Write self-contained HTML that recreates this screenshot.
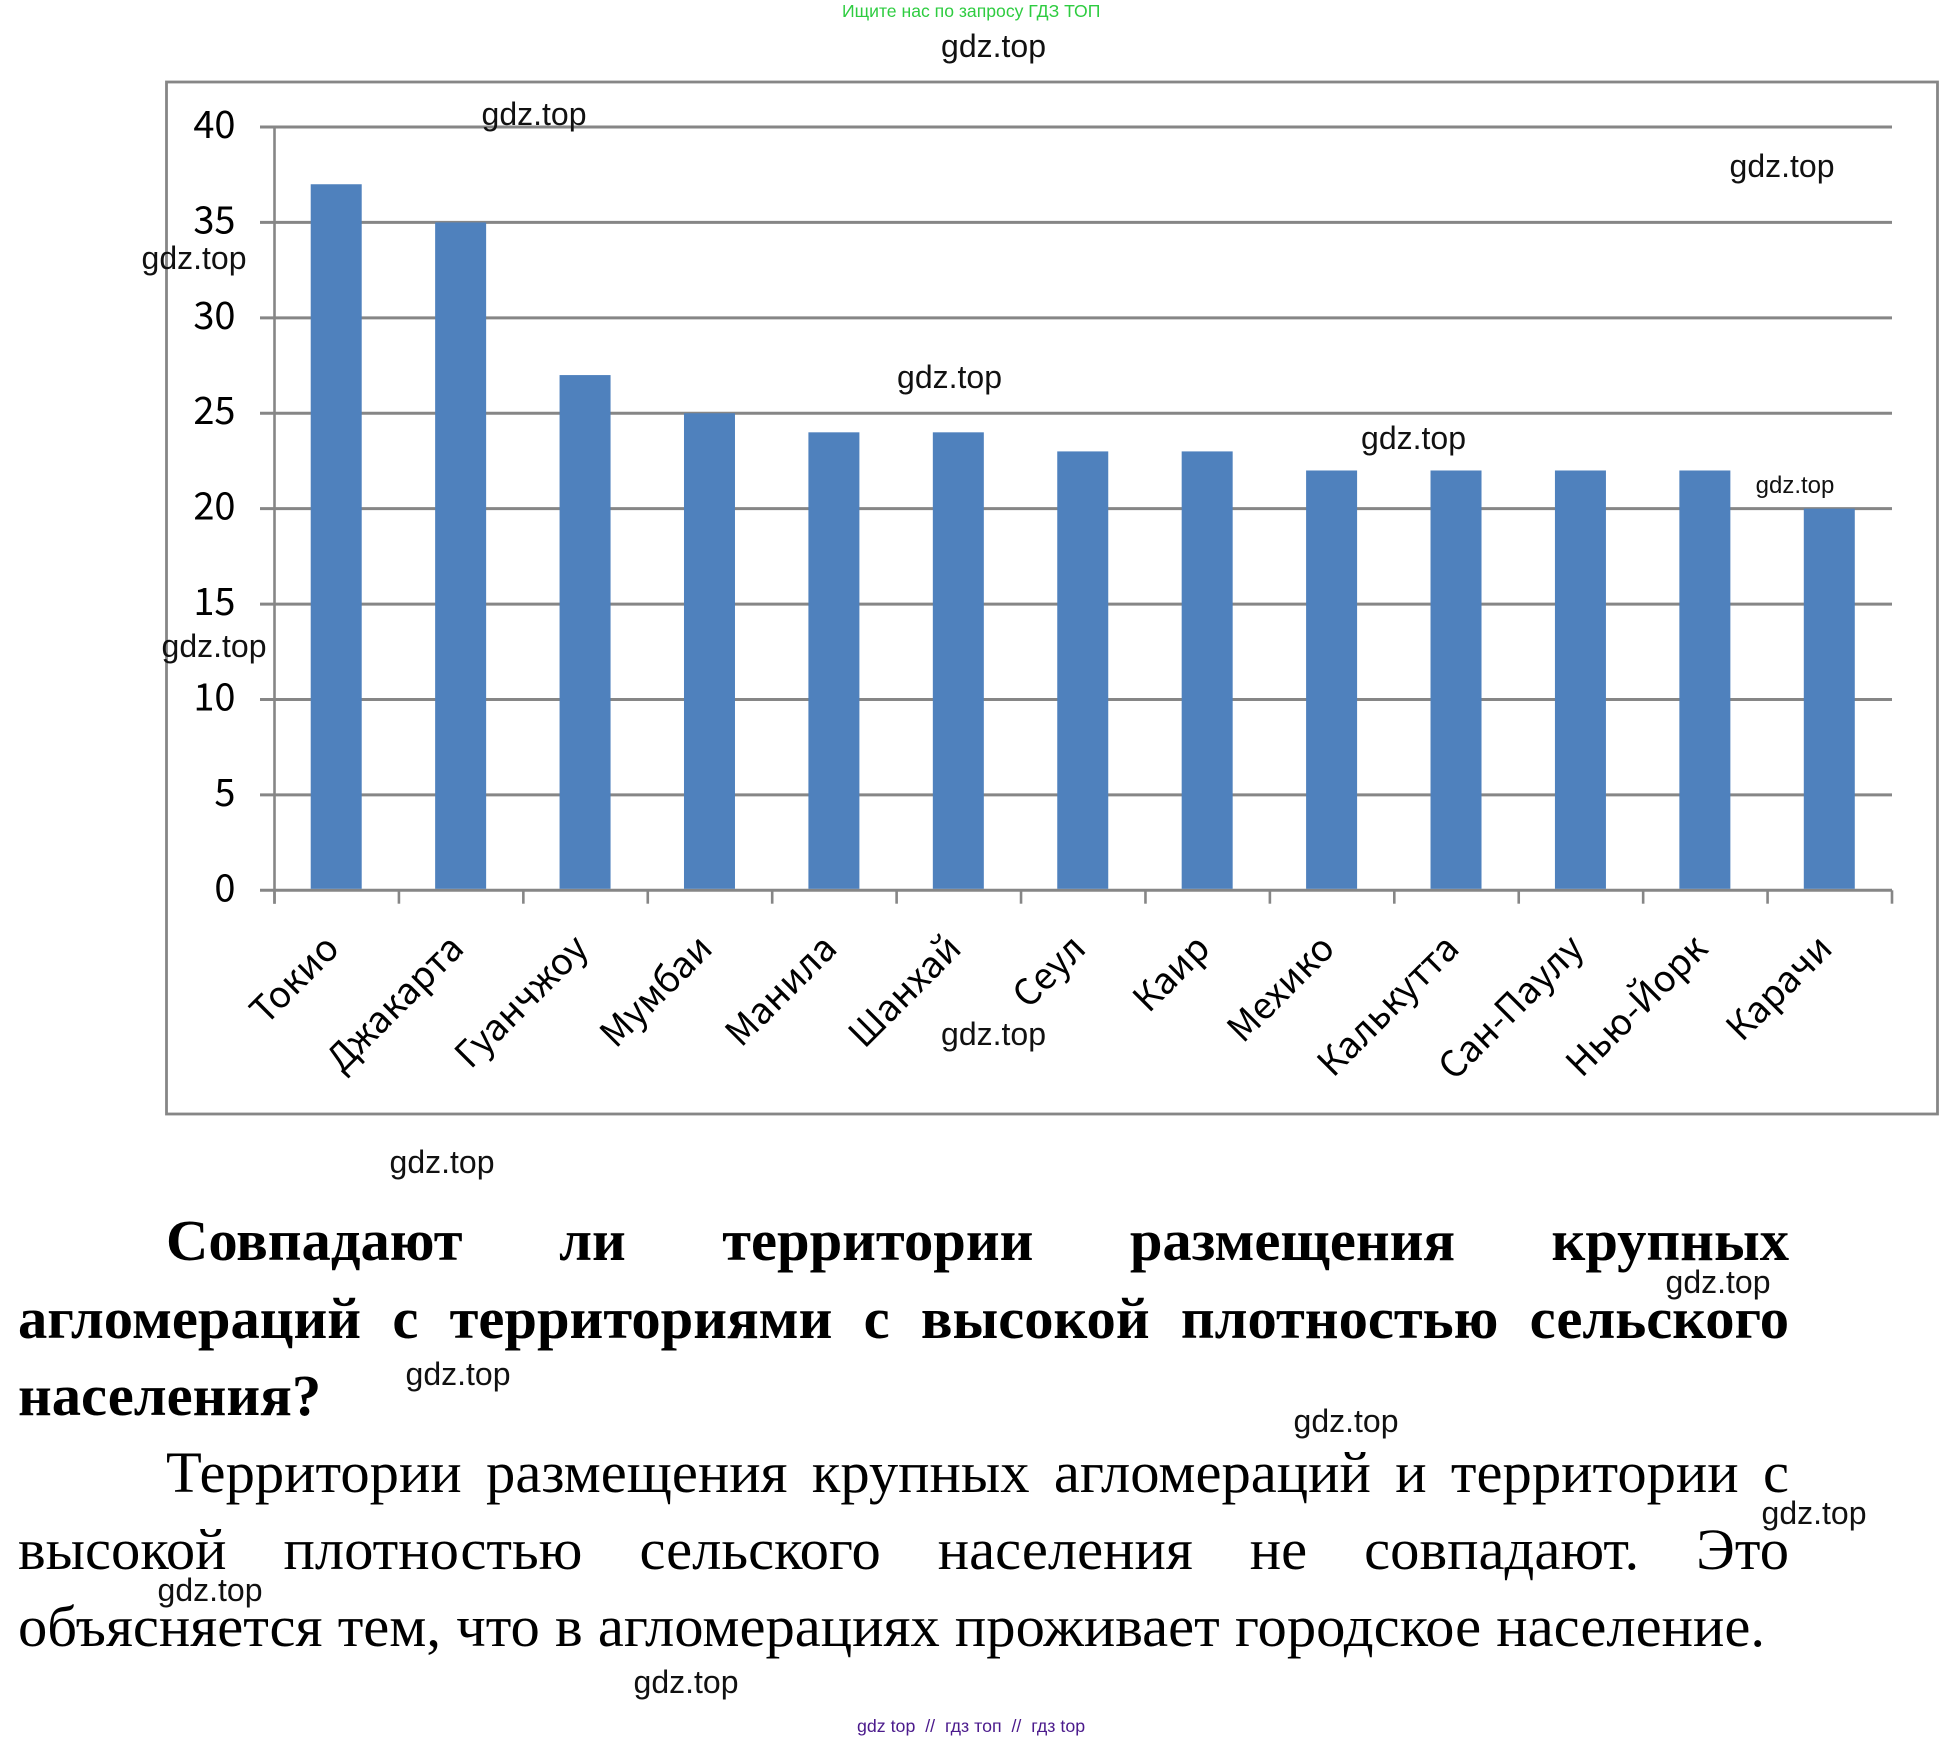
<!DOCTYPE html>
<html lang="ru">
<head>
<meta charset="utf-8">
<title>Крупнейшие агломерации</title>
<style>
html,body{margin:0;padding:0;background:#fff;}
#page{position:relative;width:1945px;height:1741px;overflow:hidden;background:#fff;}
#chart{position:absolute;left:0;top:0;}
.wm{position:absolute;font:32px/36px "Liberation Sans",sans-serif;color:#111;white-space:nowrap;transform:translateX(-50%);}
.ln{position:absolute;left:18px;width:1771px;font-family:"Liberation Serif","Noto Serif CJK SC",serif;font-size:58.6px;line-height:78px;height:78px;color:#000;white-space:nowrap;text-align:justify;text-align-last:justify;}
.ln.b{font-weight:bold;}
.ln.in{left:166px;width:1623px;}
</style>
</head>
<body>
<div id="page">
<svg id="chart" width="1945" height="1741" viewBox="0 0 1945 1741"></svg>

<div class="ln b in" style="top:1202px">Совпадают ли территории размещения крупных</div>
<div class="ln b" style="top:1280px">агломераций с территориями с высокой плотностью сельского</div>
<div class="ln b" style="top:1357px;width:auto;text-align-last:left">населения?</div>
<div class="ln in" style="top:1434px">Территории размещения крупных агломераций и территории с</div>
<div class="ln" style="top:1511px">высокой плотностью сельского населения не совпадают. Это</div>
<div class="ln" style="top:1588px;width:1747px">объясняется тем, что в агломерациях проживает городское население.</div>

<div style="position:absolute;left:842px;top:0.5px;font:17.6px/21px 'Liberation Sans',sans-serif;color:#2ecc40;white-space:nowrap">Ищите нас по запросу ГДЗ ТОП</div>
<div style="position:absolute;left:857px;top:1716px;font:17.8px/21px 'Liberation Sans',sans-serif;color:#4b1a8c;white-space:pre">gdz top  //  гдз топ  //  гдз top</div>

<div class="wm" style="left:993.5px;top:28px">gdz.top</div>
<div class="wm" style="left:534px;top:96px">gdz.top</div>
<div class="wm" style="left:1782px;top:147.5px">gdz.top</div>
<div class="wm" style="left:194px;top:240px">gdz.top</div>
<div class="wm" style="left:949.5px;top:358.5px">gdz.top</div>
<div class="wm" style="left:1413.5px;top:419.5px">gdz.top</div>
<div class="wm" style="left:1795px;top:470.5px;font-size:24px;line-height:30px">gdz.top</div>
<div class="wm" style="left:214px;top:628px">gdz.top</div>
<div class="wm" style="left:993.5px;top:1015.5px">gdz.top</div>
<div class="wm" style="left:442px;top:1144px">gdz.top</div>
<div class="wm" style="left:1718px;top:1264px">gdz.top</div>
<div class="wm" style="left:458px;top:1356px">gdz.top</div>
<div class="wm" style="left:1346px;top:1403px">gdz.top</div>
<div class="wm" style="left:1814px;top:1495px">gdz.top</div>
<div class="wm" style="left:210px;top:1572px">gdz.top</div>
<div class="wm" style="left:686px;top:1664px">gdz.top</div>
</div>

<script>
const categories = ["Токио","Джакарта","Гуанчжоу","Мумбаи","Манила","Шанхай","Сеул","Каир","Мехико","Калькутта","Сан-Паулу","Нью-Йорк","Карачи"];
const populationValues = [37,35,27,25,24,24,23,23,22,22,22,22,20];
const yTickLabels = [0,5,10,15,20,25,30,35,40];

const NS = 'http://www.w3.org/2000/svg';
const svg = document.getElementById('chart');
const plot = {left:274.5,right:1892,top:127,bottom:890.3};
const GREY = '#868686';
const FONT = '"Noto Sans CJK JP","Liberation Sans",sans-serif';
const yMax = yTickLabels[yTickLabels.length-1];
const bandW = (plot.right-plot.left)/categories.length;
function yScale(v){return plot.bottom-(v/yMax)*(plot.bottom-plot.top);}
function xBand(i){return plot.left+i*bandW;}
function mk(tag,attrs){
  const el=document.createElementNS(NS,tag);
  for(const k in attrs){el.setAttribute(k,attrs[k]);}
  return el;
}

const frame=mk('rect',{x:166.5,y:82,width:1771,height:1032,fill:'#fff',stroke:GREY,'stroke-width':2.8});


svg.appendChild(frame);

yTickLabels.forEach(function(t){
  const y=yScale(t);
  const g=mk('line',{x1:260,x2:plot.right,y1:y,y2:y,stroke:GREY,'stroke-width':3});
  
  
  svg.appendChild(g);
  const l=mk('text',{x:235.5,y:y+11,'text-anchor':'end','font-size':38,'font-family':FONT,fill:'#000'});
  l.textContent=t;
  
  
  svg.appendChild(l);
});

const yAxis=mk('line',{x1:plot.left,x2:plot.left,y1:plot.top,y2:903.7,stroke:GREY,'stroke-width':2.6});


svg.appendChild(yAxis);

for(let i=0;i<=categories.length;i++){
  const x=xBand(i);
  const t=mk('line',{x1:x,x2:x,y1:plot.bottom,y2:903.7,stroke:GREY,'stroke-width':2.6});
  
  
  svg.appendChild(t);
}

populationValues.forEach(function(v,i){
  const cx=xBand(i)+bandW/2-0.5;
  const b=mk('rect',{x:cx-25.5,y:yScale(v),width:51,height:plot.bottom-1.5-yScale(v),fill:'#4f81bd'});
  
  
  svg.appendChild(b);
});

categories.forEach(function(c,i){
  const cx=xBand(i)+bandW/2+4.5;
  const y=950.5;
  const l=mk('text',{x:cx,y:y,'text-anchor':'end','font-size':36.5,'font-family':FONT,fill:'#000',transform:'rotate(-45 '+cx+' '+y+')'});
  l.textContent=c;
  
  
  svg.appendChild(l);
});
</script>
</body>
</html>
